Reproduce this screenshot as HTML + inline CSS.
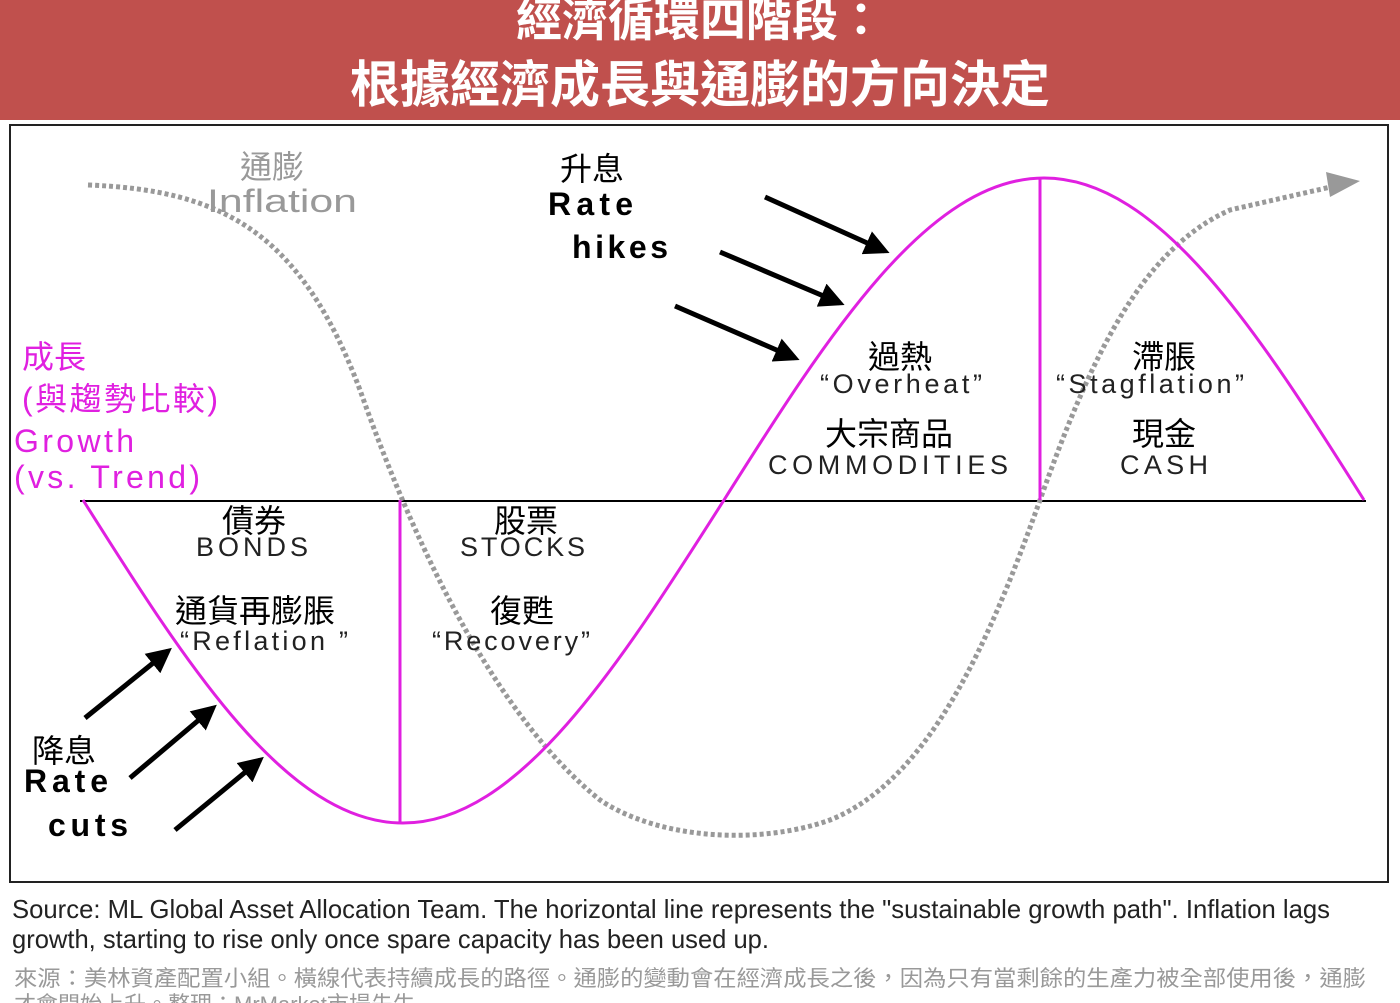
<!DOCTYPE html>
<html><head><meta charset="utf-8"><style>
html,body{margin:0;padding:0;background:#fff;}
svg{display:block;}
text{font-family:"Liberation Sans","Noto Sans CJK TC",sans-serif;}
</style></head><body>
<svg width="1400" height="1003" viewBox="0 0 1400 1003" xmlns="http://www.w3.org/2000/svg">
<defs>
<marker id="ah" viewBox="0 0 10 10" refX="8" refY="5" markerWidth="5" markerHeight="5" orient="auto"><path d="M0,0 L10,5 L0,10 z" fill="#000"/></marker>
</defs>
<rect x="0" y="0" width="1400" height="120" fill="#c0504d"/>
<text x="700" y="36" text-anchor="middle" font-size="46" font-weight="bold" fill="#fff">經濟循環四階段：</text>
<text x="700" y="102" text-anchor="middle" font-size="50" font-weight="bold" fill="#fff">根據經濟成長與通膨的方向決定</text>
<rect x="10" y="125" width="1378" height="757" fill="#fff" stroke="#222" stroke-width="2"/>
<line x1="80" y1="501" x2="1366" y2="501" stroke="#000" stroke-width="2"/>
<path d="M88,185 C220,190 300,230 360,390 C420,560 500,720 600,800 C660,840 760,845 830,820 C930,780 990,640 1040,500 C1090,360 1140,250 1230,210 L1335,186" fill="none" stroke="#999" stroke-width="5" stroke-dasharray="4,3"/>
<path d="M1326,172 L1360,181 L1330,197 z" fill="#999"/>
<path d="M83,500 C187,665 287,823 403,823 C519,823 619,665 724,500 C828,335 928,178 1044,178 C1160,178 1260,335 1364,500" fill="none" stroke="#e020e0" stroke-width="3"/>
<line x1="400" y1="500" x2="400" y2="823" stroke="#e020e0" stroke-width="3"/>
<line x1="1040" y1="178" x2="1040" y2="500" stroke="#e020e0" stroke-width="3"/>
<g stroke="#000" stroke-width="5" marker-end="url(#ah)">
<line x1="765" y1="197" x2="885" y2="251"/>
<line x1="720" y1="252" x2="840" y2="303"/>
<line x1="675" y1="306" x2="795" y2="358"/>
<line x1="85" y1="718" x2="168" y2="651"/>
<line x1="130" y1="778" x2="213" y2="708"/>
<line x1="175" y1="830" x2="260" y2="760"/>
</g>
<g font-size="32" fill="#999">
<text x="240" y="178">通膨</text>
<text x="207" y="212" textLength="150" lengthAdjust="spacingAndGlyphs">Inflation</text>
</g>
<g font-size="32" fill="#000">
<text x="560" y="180">升息</text>
<text x="548" y="215" font-weight="bold" textLength="85">Rate</text>
<text x="572" y="258" font-weight="bold" textLength="96">hikes</text>
<text x="32" y="762">降息</text>
<text x="24" y="792" font-weight="bold" textLength="84">Rate</text>
<text x="48" y="836" font-weight="bold" textLength="80">cuts</text>
<text x="222" y="532">債券</text>
<text x="494" y="532">股票</text>
<text x="175" y="622">通貨再膨脹</text>
<text x="490" y="622">復甦</text>
<text x="868" y="368">過熱</text>
<text x="825" y="445">大宗商品</text>
<text x="1132" y="368">滯脹</text>
<text x="1132" y="445">現金</text>
</g>
<g font-size="27" fill="#222">
<text x="196" y="556" textLength="112">BONDS</text>
<text x="460" y="556" textLength="125">STOCKS</text>
<text x="180" y="650" textLength="168">“Reflation ”</text>
<text x="432" y="650" textLength="158">“Recovery”</text>
<text x="820" y="393" textLength="162">“Overheat”</text>
<text x="768" y="474" textLength="240">COMMODITIES</text>
<text x="1056" y="393" textLength="188">“Stagflation”</text>
<text x="1120" y="474" textLength="88">CASH</text>
</g>
<g font-size="32" fill="#e020e0">
<text x="22" y="368">成長</text>
<text x="22" y="410" textLength="196">(與趨勢比較)</text>
<text x="14" y="452" textLength="120">Growth</text>
<text x="14" y="488" textLength="186">(vs. Trend)</text>
</g>
<text x="12" y="918" font-size="26" fill="#222" textLength="1318" lengthAdjust="spacingAndGlyphs">Source: ML Global Asset Allocation Team. The horizontal line represents the "sustainable growth path". Inflation lags</text>
<text x="12" y="948" font-size="26" fill="#222" textLength="757" lengthAdjust="spacingAndGlyphs">growth, starting to rise only once spare capacity has been used up.</text>
<text x="14" y="986" font-size="22" fill="#999" textLength="1352" lengthAdjust="spacingAndGlyphs">來源：美林資產配置小組。橫線代表持續成長的路徑。通膨的變動會在經濟成長之後，因為只有當剩餘的生產力被全部使用後，通膨</text>
<text x="14" y="1012" font-size="22" fill="#999">才會開始上升。整理：MrMarket市場先生</text>
</svg>
</body></html>
